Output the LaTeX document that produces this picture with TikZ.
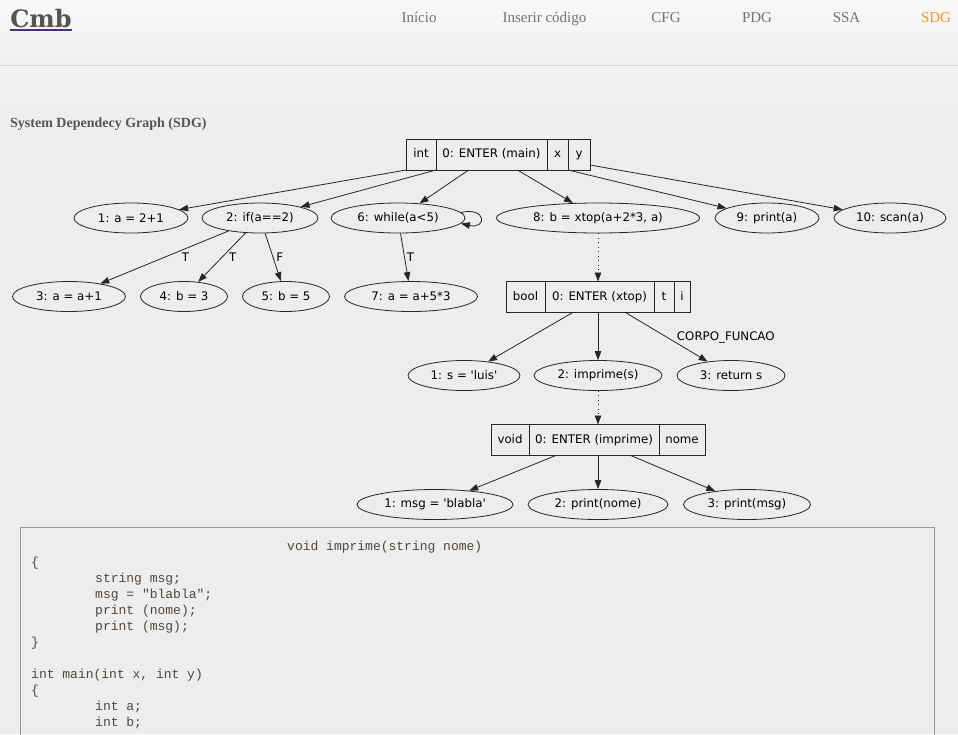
\documentclass[tikz,border=0pt]{standalone}
\usepackage{fontspec}
\setmainfont{Liberation Serif}
\setmonofont{Liberation Mono}
\newfontfamily\gvfont{DejaVu Sans}
\newfontfamily\logofont{DejaVu Serif}
\usetikzlibrary{positioning,shapes.geometric,arrows.meta}
\definecolor{navgray}{HTML}{727272}
\definecolor{navorange}{HTML}{F7941E}
\definecolor{logogray}{HTML}{555555}
\definecolor{logoline}{HTML}{4B2C7E}
\definecolor{codecol}{HTML}{4F463E}
\definecolor{bggray}{HTML}{EDEDED}
\definecolor{hdrtop}{HTML}{F8F8F8}
\definecolor{hdrbot}{HTML}{F1F1F1}

\begin{document}
\begin{tikzpicture}[x=1pt,y=-1pt,
  stmt/.style={ellipse,draw=black!85,line width=0.8pt,inner sep=0pt,minimum height=30pt,
    font=\gvfont\fontsize{11.8}{14}\selectfont},
  cell/.style={rectangle,draw=black!85,line width=0.8pt,inner sep=0pt,outer sep=0pt,
    minimum height=31pt,text height=8.8pt,text depth=2.8pt,font=\gvfont\fontsize{11.8}{14}\selectfont},
  dep/.style={draw=black!85,line width=0.8pt,-{Triangle[length=9pt,width=6.5pt]}},
  call/.style={dep,dash pattern=on 1pt off 3.5pt},
  lbl/.style={inner sep=0pt,font=\gvfont\fontsize{11.8}{14}\selectfont},
  nav/.style={anchor=base,inner sep=0pt,text=navgray,font=\fontsize{15}{17}\selectfont},
  code/.style={anchor=base west,inner sep=0pt,text=codecol,font=\ttfamily\fontsize{13}{16}\selectfont}]
\useasboundingbox (0,0) rectangle (958,734);
\fill[bggray] (0,0) rectangle (958,734);
\shade[top color=hdrtop,bottom color=hdrbot] (0,0) rectangle (958,65);
\shade[top color=hdrbot,bottom color=bggray] (0,66) rectangle (958,150);
\draw[black!16,line width=1pt] (0,65.5) -- (958,65.5);

\node[anchor=base,inner sep=0pt,text=logogray,font=\logofont\bfseries\fontsize{24}{28}\selectfont] (logo) at (41,27.5) {Cmb};
\draw[logoline,line width=1.2pt] ([yshift=-2pt]logo.south west) -- ([yshift=-2pt]logo.south east);
\node[nav] (ninicio) at (419,22.5) {Início};
\node[nav] (ninserir) at (544.5,22.5) {Inserir código};
\node[nav] (ncfg) at (666,22.5) {CFG};
\node[nav] (npdg) at (757,22.5) {PDG};
\node[nav] (nssa) at (846.5,22.5) {SSA};
\node[nav,text=navorange] (nsdg) at (936,22.5) {SDG};
\node[anchor=west,inner sep=0pt,text=logogray,font=\bfseries\fontsize{14}{16}\selectfont] (title) at (10,124) {System Dependecy Graph (SDG)};

\node[cell,minimum width=30pt,anchor=west] (mint) at (406,154.5) {int};
\node[cell,minimum width=111pt,right=0pt of mint] (menter) {0: ENTER (main)};
\node[cell,minimum width=21pt,right=0pt of menter] (mx) {x};
\node[cell,minimum width=22pt,right=0pt of mx] (my) {y};

\node[stmt,minimum width=114pt] (m1) at (131,218) {1: a = 2+1};
\node[stmt,minimum width=116pt] (m2) at (260,218) {2: if(a==2)};
\node[stmt,minimum width=134pt] (m6) at (398,218) {6: while(a<5)};
\node[stmt,minimum width=203pt] (m8) at (598,218) {8: b = xtop(a+2*3, a)};
\node[stmt,minimum width=104pt] (m9) at (767,218) {9: print(a)};
\node[stmt,minimum width=112pt] (m10) at (890,218) {10: scan(a)};

\node[stmt,minimum width=113pt] (s3) at (69,296.5) {3: a = a+1};
\node[stmt,minimum width=87pt] (s4) at (184,296.5) {4: b = 3};
\node[stmt,minimum width=87pt] (s5) at (286,296.5) {5: b = 5};
\node[stmt,minimum width=133pt] (s7) at (411,296.5) {7: a = a+5*3};

\node[cell,minimum width=39pt,anchor=west] (xbool) at (506,297) {bool};
\node[cell,minimum width=109pt,right=0pt of xbool] (xenter) {0: ENTER (xtop)};
\node[cell,minimum width=20pt,right=0pt of xenter] (xt) {t};
\node[cell,minimum width=16pt,right=0pt of xt] (xi) {i};

\node[stmt,minimum width=112pt] (t1) at (464,375.5) {1: s = \textquotesingle luis\textquotesingle};
\node[stmt,minimum width=128pt] (t2) at (598,375.5) {2: imprime(s)};
\node[stmt,minimum width=108pt] (t3) at (731,375.5) {3: return s};

\node[cell,minimum width=38pt,anchor=west] (ivoid) at (491,440) {void};
\node[cell,minimum width=130pt,right=0pt of ivoid] (ienter) {0: ENTER (imprime)};
\node[cell,minimum width=46pt,right=0pt of ienter] (inome) {nome};

\node[stmt,minimum width=156pt] (u1) at (435,504.5) {1: msg = \textquotesingle blabla\textquotesingle};
\node[stmt,minimum width=140pt] (u2) at (598,504.5) {2: print(nome)};
\node[stmt,minimum width=127pt] (u3) at (747,504.5) {3: print(msg)};

\draw[dep] (mint.south west) -- (m1);
\draw[dep] (menter.south west) -- (m2);
\draw[dep] (menter) -- (m6);
\draw[dep] (menter) -- (m8);
\draw[dep] (mx.south east) -- (m9);
\draw[dep] ([yshift=5pt]my.south east) -- (m10);
\draw[dep] (m6.5) .. controls +(26,-6) and +(26,6) .. (m6.-5);
\draw[dep] (m2) -- node[lbl,right=17pt] (l3) {T} (s3);
\draw[dep] (m2) -- node[lbl,right=7pt] (l4) {T} (s4);
\draw[dep] (m2) -- node[lbl,right=3pt] (l5) {F} (s5);
\draw[dep] (m6) -- node[lbl,right=2pt] (l7) {T} (s7);
\draw[call] (m8) -- (m8 |- xenter.north);
\draw[dep] (xenter) -- (t1);
\draw[dep] (xenter.south -| t2) -- (t2);
\draw[dep] (xenter) -- node[lbl,right=10pt] (lcorpo) {CORPO\_FUNCAO} (t3);
\draw[call] (t2) -- (t2 |- ienter.north);
\draw[dep] (ienter) -- (u1);
\draw[dep] (ienter.south -| u2) -- (u2);
\draw[dep] (ienter) -- (u3);

\draw[black!40,line width=0.8pt] (20,760) -- (20,527) -- (934,527) -- (934,760);
\node[code] (c0) at (287,550) {void imprime(string nome)};
\node[code] (c1) at (31,566) {\{};
\node[code] (c2) at (95,582) {string msg;};
\node[code] (c3) at (95,598) {msg = "blabla";};
\node[code] (c4) at (95,614) {print (nome);};
\node[code] (c5) at (95,630) {print (msg);};
\node[code] (c6) at (31,646) {\}};
\node[code] (c7) at (31,678) {int main(int x, int y)};
\node[code] (c8) at (31,694) {\{};
\node[code] (c9) at (95,710) {int a;};
\node[code] (c10) at (95,726) {int b;};
\end{tikzpicture}
\end{document}
